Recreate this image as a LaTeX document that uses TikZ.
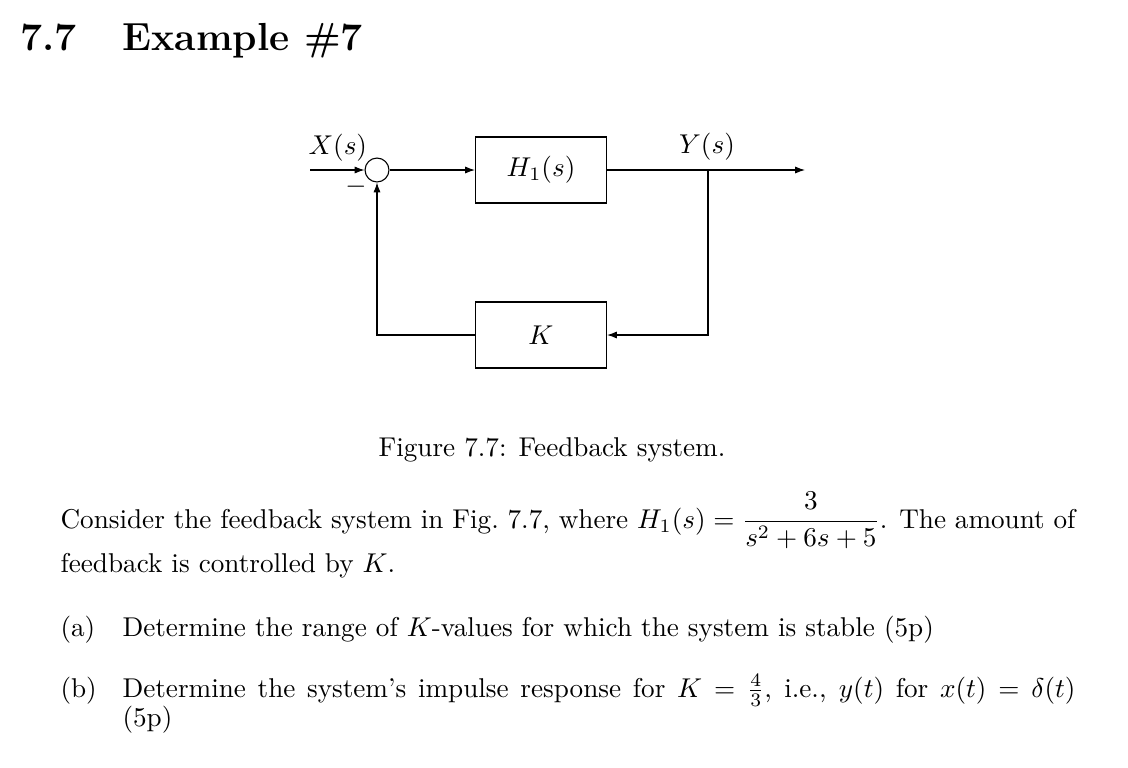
\documentclass[tikz,border=0pt]{standalone}
\usetikzlibrary{arrows.meta}
\begin{document}
\begin{tikzpicture}[x=0.368pt,y=-0.368pt,
  blk/.style={draw, minimum width=48.2pt, minimum height=24.3pt, inner sep=0pt},
  sumc/.style={draw, circle, minimum size=8.8pt, inner sep=0pt},
  sig/.style={-{Latex[length=3.6pt,width=2.6pt]}},
  lbl/.style={inner sep=0pt, anchor=base west},
  clbl/.style={inner sep=0pt, anchor=base},
]
\useasboundingbox (0,0) rectangle (1128,767);
% heading
\node[lbl] (secnum) at (20,50) {\Large\bfseries 7.7};
\node[lbl] (sectitle) at (122,50) {\Large\bfseries Example \#7};
% diagram
\coordinate (xin) at (310,170);
\node[sumc] (sum) at (377,170) {};
\node[blk] (h1) at (541,170) {$H_1(s)$};
\coordinate (yout) at (805,170);
\coordinate (br) at (708,170);
\node[blk] (k) at (541,335) {$K$};
\draw[sig] (xin) -- (sum);
\draw[sig] (sum) -- (h1);
\draw[sig] (h1) -- (yout);
\draw[sig] (br) |- (k);
\draw[sig] (k) -| (sum);
\node[lbl] (xlab) at (308,154) {$X(s)$};
\node[clbl] (ylab) at (707,153) {$Y(s)$};
\node[inner sep=0pt] (minus) at (356,187) {$-$};
% caption
\node[clbl] (cap) at (552,456) {Figure 7.7: Feedback system.};
% text
\node[lbl] (p1) at (60,528) {\hbox to 373.5pt{Consider the feedback system in Fig.\ 7.7, where $H_1(s) = {\displaystyle\frac{3}{s^2+6s+5}}$. The amount of}};
\node[lbl] (p2) at (60,572) {feedback is controlled by $K$.};
\node[lbl] (ia) at (60,636) {(a)};
\node[lbl] (ta) at (122,636) {Determine the range of $K$-values for which the system is stable (5p)};
\node[lbl] (ib) at (60,697) {(b)};
\node[lbl] (tb) at (122,697) {\hbox to 350.7pt{Determine the system's impulse response for $K=\frac{4}{3}$, i.e., $y(t)$ for $x(t)=\delta(t)$}};
\node[lbl] (tb2) at (122,726) {(5p)};
\end{tikzpicture}
\end{document}
